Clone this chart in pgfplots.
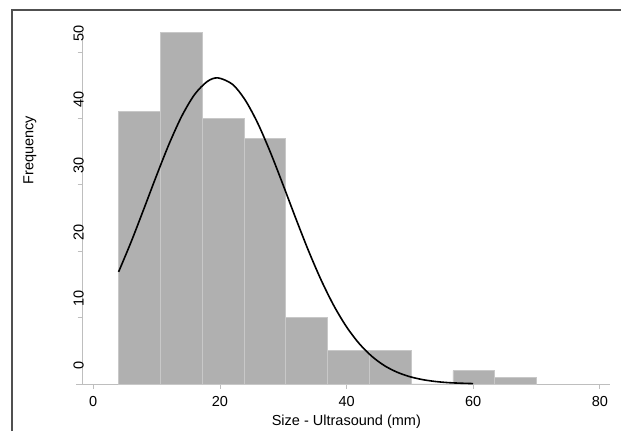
\documentclass[border=0pt]{standalone}
\usepackage{fontspec}
\setmainfont{Liberation Sans}
\usepackage{pgfplots}
\pgfplotsset{compat=1.18}

\definecolor{bargray}{RGB}{176,176,176}
\definecolor{baredge}{RGB}{200,200,200}
\definecolor{axgray}{RGB}{190,190,190}
\definecolor{framegray}{RGB}{80,80,80}

\begin{document}
\begin{tikzpicture}[x=1pt,y=1pt]
\useasboundingbox (0,0) rectangle (621,431);
% frame of the graph region (cropped at right and bottom)
\draw[framegray, line width=1.6pt] (12,0) -- (12,421) -- (621,421);

\begin{axis}[
    at={(82.7pt,47pt)}, anchor=south west,
    scale only axis,
    width=527.3pt, height=352.3pt,
    xmin=-1.67, xmax=81.6,
    ymin=0, ymax=53.06,
    axis x line*=bottom, axis y line*=left,
    axis line style={axgray, line width=0.8pt},
    xtick={0,20,...,80},
    ytick={0,10,...,50},
    tick align=outside,
    major tick length=5pt,
    tick style={axgray, line width=0.8pt},
    tick label style={font=\fontsize{14.5}{16}\selectfont},
    label style={font=\fontsize{14.5}{16}\selectfont},
    /pgf/number format/assume math mode=true,
    yticklabel style={rotate=90, anchor=base, xshift=19pt, yshift=-6pt},
    xticklabel style={yshift=-4pt},
    xlabel={Size - Ultrasound (mm)},
    ylabel={Frequency},
    xlabel style={at={(axis description cs:0.5,0)}, anchor=center, yshift=-37.5pt},
    ylabel style={at={(axis description cs:-0.1,0.664)}, anchor=center},
    clip=false,
]
% histogram counts, bins of width 6.6 starting at 4
\addplot[ybar interval, fill=bargray, draw=baredge, line width=0.8pt] coordinates {
    (4,41) (10.6,53) (17.2,40) (23.8,37) (30.4,10) (37,5)
    (43.6,5) (50.2,0) (56.8,2) (63.4,1) (70,1)
};
% fitted normal density scaled to frequency
\addplot[black, line width=1.6pt, smooth] coordinates {
    (4,16.89) (6,21.46) (8,26.40) (10,31.42) (12,36.21) (14,40.39)
    (16,43.60) (18,45.56) (19.7,46.10) (22,45.12) (24,42.75) (26,39.22)
    (28,34.82) (30,29.92) (32,24.89) (34,20.04) (36,15.62) (38,11.78)
    (40,8.60) (42,6.08) (44,4.16) (46,2.75) (48,1.77) (50,1.10)
    (52,0.66) (54,0.38) (56,0.21) (58,0.12) (60,0.06)
};
\draw[axgray, line width=0.8pt] (axis cs:-2.7,0) -- (axis cs:-1.67,0);
\end{axis}
\end{tikzpicture}
\end{document}
